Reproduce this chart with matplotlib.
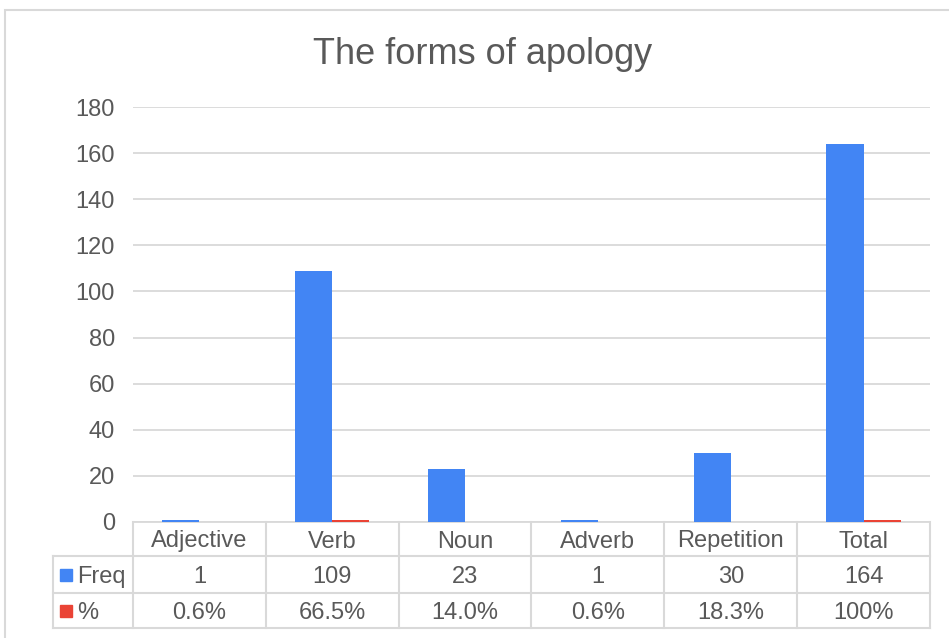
import matplotlib.pyplot as plt
import matplotlib.patches as patches
from matplotlib.transforms import blended_transform_factory

categories = ["Adjective", "Verb", "Noun", "Adverb", "Repetition", "Total"]
freq = [1, 109, 23, 1, 30, 164]
pct = [0.006, 0.665, 0.140, 0.006, 0.183, 1.0]
freq_labels = ["1", "109", "23", "1", "30", "164"]
pct_labels = ["0.6%", "66.5%", "14.0%", "0.6%", "18.3%", "100%"]
yticks = [0, 20, 40, 60, 80, 100, 120, 140, 160, 180]

BLUE = "#4285F4"
RED = "#EA4335"
TXT = "#595959"
GRID = "#D9D9D9"

plt.rcParams['font.family'] = ['Liberation Sans', 'DejaVu Sans']

W, H = 949, 638
fig = plt.figure(figsize=(W / 100, H / 100), dpi=100)

def fx(px):
    return px / W

def fy(py):
    return 1 - py / H

# outer chart border
fig.patches.append(patches.Rectangle((fx(5), fy(660)), fx(980), fy(10) - fy(660),
                                     transform=fig.transFigure, fill=False,
                                     edgecolor=GRID, lw=1.5))

ax = fig.add_axes([fx(133), fy(522), fx(930) - fx(133), fy(107) - fy(522)])

x = list(range(len(categories)))
bw = 0.28
ax.bar([i - bw / 2 for i in x], freq, width=bw, color=BLUE, zorder=3)
ax.bar([i + bw / 2 for i in x], pct, width=bw, color=RED, zorder=3)

ax.set_xlim(-0.5, len(categories) - 0.5)
ax.set_ylim(0, 180)
ax.set_yticks(yticks)
ax.set_yticklabels([str(t) for t in yticks], fontsize=17, color=TXT)
ax.tick_params(axis='y', length=0, pad=13)
ax.set_xticks([])
ax.yaxis.grid(True, color=GRID, lw=1.3, zorder=0)
for s in ["top", "right", "left"]:
    ax.spines[s].set_visible(False)
ax.spines["bottom"].set_color(GRID)
ax.spines["bottom"].set_linewidth(1.3)

fig.text(fx(483), fy(55), "The forms of apology", ha='center', va='center',
         fontsize=26, color=TXT)

# data table under the axis
tr = blended_transform_factory(ax.transData, fig.transFigure)
px_per_cat = (930 - 133) / len(categories)
left_edge = -0.5 - (133 - 53) / px_per_cat
rows_y = [fy(522), fy(556), fy(593), fy(628)]
line_kw = dict(color=GRID, lw=1.5, transform=tr, clip_on=False)

for yy in rows_y[1:]:
    ax.plot([left_edge, len(categories) - 0.5], [yy, yy], **line_kw)
for i in range(len(categories) + 1):
    ax.plot([i - 0.5, i - 0.5], [rows_y[0], rows_y[3]], **line_kw)
ax.plot([left_edge, left_edge], [rows_y[1], rows_y[3]], **line_kw)

txt_kw = dict(transform=tr, ha='center', va='center_baseline', fontsize=17, color=TXT)
for i, cat in enumerate(categories):
    ax.text(i, (rows_y[0] + rows_y[1]) / 2, cat, **txt_kw)
    ax.text(i, (rows_y[1] + rows_y[2]) / 2, freq_labels[i], **txt_kw)
    ax.text(i, (rows_y[2] + rows_y[3]) / 2, pct_labels[i], **txt_kw)

# legend keys in the row headers
for (y0, y1), name, col in [((556, 593), "Freq", BLUE), ((593, 628), "%", RED)]:
    yc = (y0 + y1) / 2
    fig.patches.append(patches.Rectangle((fx(60), fy(yc + 6)), fx(12), fy(yc - 6) - fy(yc + 6),
                                         transform=fig.transFigure, color=col))
    fig.text(fx(77), fy(yc), name, ha='left', va='center_baseline', fontsize=17, color=TXT)

fig.savefig("out.png", dpi=100)
